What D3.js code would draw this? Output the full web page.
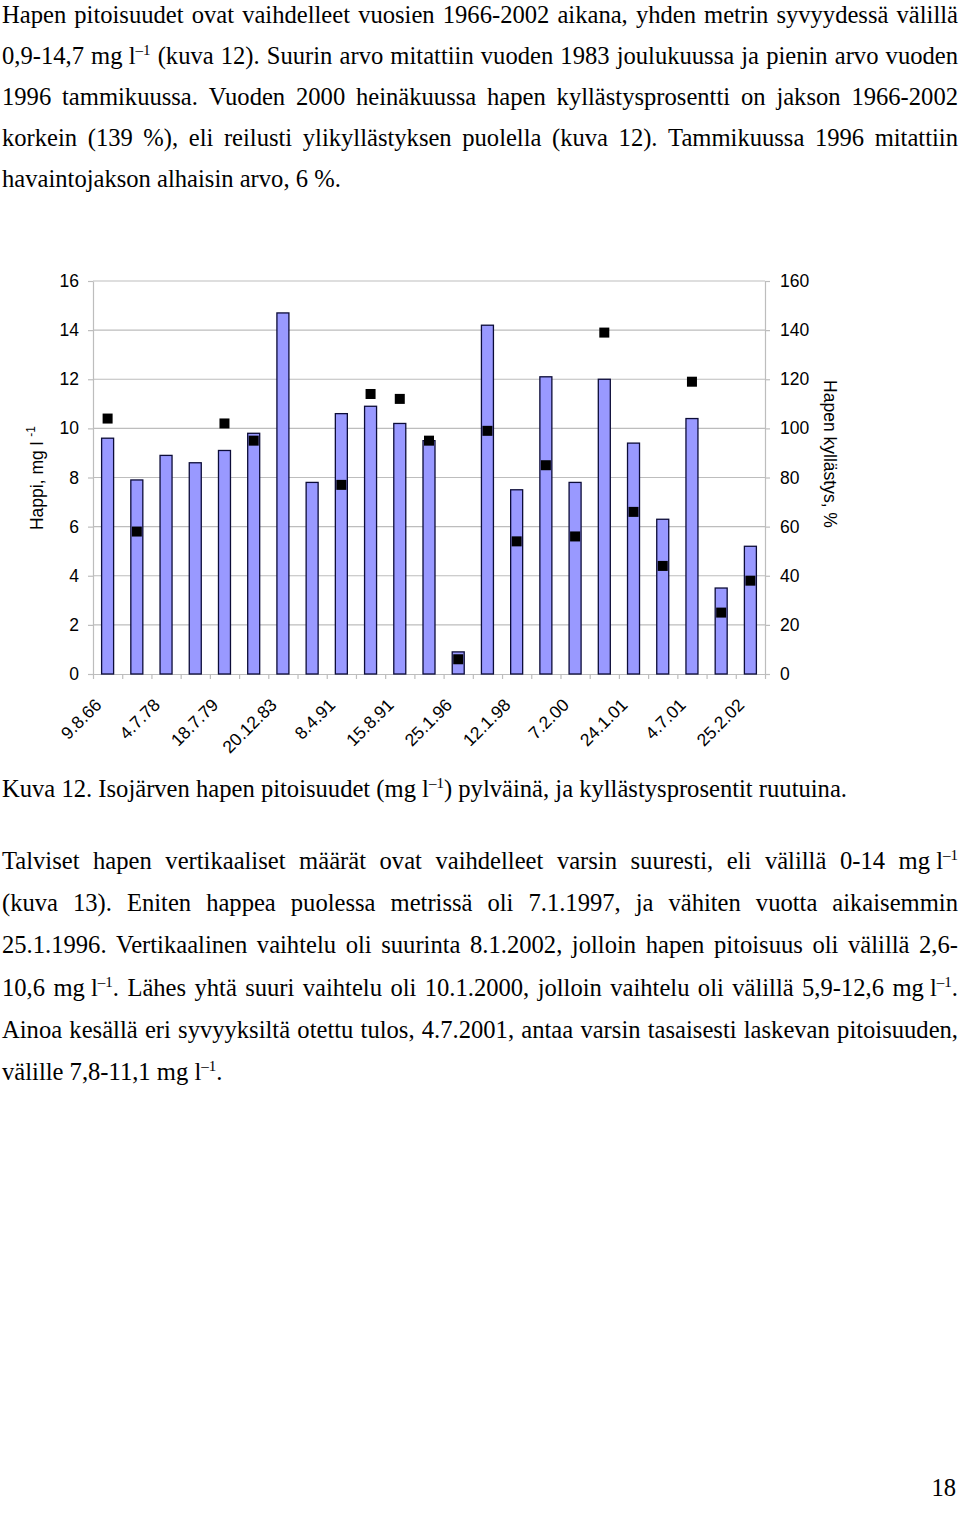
<!DOCTYPE html>
<html><head><meta charset="utf-8">
<script src="https://cdn.jsdelivr.net/npm/d3@7"></script>
<style>body{margin:0;background:#fff} svg{display:block}</style>
</head><body>
<svg id="c" width="960" height="1515"></svg>
<script>
// ---------- data ----------
const categories = ["9.8.66","c2","4.7.78","c4","18.7.79","c6","20.12.83","c8","8.4.91","c10","15.8.91","c12","25.1.96","c14","12.1.98","c16","7.2.00","c18","24.1.01","c20","4.7.01","c22","25.2.02"];
const tickLabels = ["9.8.66","","4.7.78","","18.7.79","","20.12.83","","8.4.91","","15.8.91","","25.1.96","","12.1.98","","7.2.00","","24.1.01","","4.7.01","","25.2.02"];
const oxygen = [9.6,7.9,8.9,8.6,9.1,9.8,14.7,7.8,10.6,10.9,10.2,9.5,0.9,14.2,7.5,12.1,7.8,12.0,9.4,6.3,10.4,3.5,5.2];
const saturation = [104,58,null,null,102,95,null,null,77,114,112,95,6,99,54,85,56,139,66,44,119,25,38];
const yTicks = [0,2,4,6,8,10,12,14,16];
const y2Ticks = [0,20,40,60,80,100,120,140,160];

const para1 = [
 "Hapen pitoisuudet ovat vaihdelleet vuosien 1966-2002 aikana, yhden metrin syvyydessä välillä",
 "0,9-14,7 mg\u00A0l^{–1} (kuva 12). Suurin arvo mitattiin vuoden 1983 joulukuussa ja pienin arvo vuoden",
 "1996 tammikuussa. Vuoden 2000 heinäkuussa hapen kyllästysprosentti on jakson 1966-2002",
 "korkein (139 %), eli reilusti ylikyllästyksen puolella (kuva 12). Tammikuussa 1996 mitattiin",
 "havaintojakson alhaisin arvo, 6 %."
];
const caption = ["Kuva 12. Isojärven hapen pitoisuudet (mg\u00A0l^{–1}) pylväinä, ja kyllästysprosentit ruutuina."];
const para2 = [
 "Talviset hapen vertikaaliset määrät ovat vaihdelleet varsin suuresti, eli välillä 0-14 mg\u00A0l^{–1}",
 "(kuva 13). Eniten happea puolessa metrissä oli 7.1.1997, ja vähiten vuotta aikaisemmin",
 "25.1.1996. Vertikaalinen vaihtelu oli suurinta 8.1.2002, jolloin hapen pitoisuus oli välillä 2,6-",
 "10,6 mg\u00A0l^{–1}. Lähes yhtä suuri vaihtelu oli 10.1.2000, jolloin vaihtelu oli välillä 5,9-12,6 mg\u00A0l^{–1}.",
 "Ainoa kesällä eri syvyyksiltä otettu tulos, 4.7.2001, antaa varsin tasaisesti laskevan pitoisuuden,",
 "välille 7,8-11,1 mg\u00A0l^{–1}."
];

// ---------- setup ----------
const svg = d3.select("#c");
const M = {left:93, right:765, top:281, bottom:674};
const x = d3.scaleBand().domain(d3.range(oxygen.length)).range([M.left, M.right]);
const xb = d3.scaleLinear().domain([0, oxygen.length]).range([M.left, M.right]);
const y = d3.scaleLinear().domain([0,16]).range([M.bottom, M.top]);
const y2 = d3.scaleLinear().domain([0,160]).range([M.bottom, M.top]);
const AX = "#bdbdbd";
const SANS = "'Liberation Sans', Arial, sans-serif";
const SERIF = "'Liberation Serif', 'Times New Roman', serif";
const CFS = 17.5;

// gridlines
svg.append("g").selectAll("line").data(yTicks.filter(d => d > 0)).join("line")
  .attr("x1", M.left).attr("x2", M.right)
  .attr("y1", d => y(d)).attr("y2", d => y(d))
  .attr("stroke", AX).attr("stroke-width", 1.2);

function styleAxis(g){
  g.selectAll("path.domain").attr("stroke", AX).attr("stroke-width", 1.2);
  g.selectAll(".tick line").attr("stroke", AX).attr("stroke-width", 1.2);
  g.selectAll("text").attr("font-family", SANS).attr("font-size", CFS).attr("fill", "#000");
}

svg.append("g").attr("transform", `translate(${M.left},0)`)
  .call(d3.axisLeft(y).tickValues(yTicks).tickSize(5).tickSizeOuter(0).tickPadding(9))
  .call(styleAxis);
svg.append("g").attr("transform", `translate(${M.right},0)`)
  .call(d3.axisRight(y2).tickValues(y2Ticks).tickSize(5).tickSizeOuter(0).tickPadding(10))
  .call(styleAxis);
svg.append("g").attr("transform", `translate(0,${M.bottom})`)
  .call(d3.axisBottom(xb).tickValues(d3.range(oxygen.length + 1)).tickSize(5).tickSizeOuter(0).tickFormat(""))
  .call(styleAxis);
const xl = svg.append("g").attr("transform", `translate(0,${M.bottom})`)
  .call(d3.axisBottom(x).tickSize(0).tickFormat(i => tickLabels[i]))
  .call(styleAxis);
xl.select("path.domain").remove();
xl.selectAll(".tick text").attr("x", 0).attr("y", 0).attr("dy", 0)
  .attr("text-anchor", "end").attr("transform", "translate(-5,32) rotate(-45)");

// bars
const bw = 12;
svg.append("g").selectAll("rect").data(oxygen).join("rect")
  .attr("x", (d,i) => x(i) + x.bandwidth()/2 - bw/2)
  .attr("width", bw)
  .attr("y", d => y(d)).attr("height", d => y(0) - y(d))
  .attr("fill", "#9999ff").attr("stroke", "#0c0c38").attr("stroke-width", 1.3);

// markers
const ms = 10;
svg.append("g").selectAll("rect").data(saturation.map((v,i) => ({v,i})).filter(d => d.v != null)).join("rect")
  .attr("x", d => x(d.i) + x.bandwidth()/2 - ms/2)
  .attr("y", d => y2(d.v) - ms/2)
  .attr("width", ms).attr("height", ms).attr("fill", "#000");

// axis titles
const lt = svg.append("text").attr("font-family", SANS).attr("font-size", CFS)
  .attr("text-anchor", "middle").attr("transform", `translate(43,478) rotate(-90)`);
lt.append("tspan").text("Happi, mg l ");
lt.append("tspan").attr("font-size", 12).attr("dy", -8).text("-1");
svg.append("text").attr("font-family", SANS).attr("font-size", CFS)
  .attr("text-anchor", "middle").attr("transform", `translate(824,454) rotate(90)`)
  .text("Hapen kyllästys, %");

// ---------- body text ----------
const FS = 24.6, SUPFS = 15, SUPDY = 9;
function drawWord(g, word){
  const t = g.append("text").attr("font-family", SERIF).attr("font-size", FS).attr("fill", "#000");
  const re = /\^\{([^}]*)\}/g;
  let last = 0, m, raised = false;
  while ((m = re.exec(word)) !== null){
    if (m.index > last) t.append("tspan").attr("dy", raised ? SUPDY : null).text(word.slice(last, m.index)), raised = false;
    t.append("tspan").attr("font-size", SUPFS).attr("dy", raised ? 0 : -SUPDY).text(m[1]);
    raised = true;
    last = re.lastIndex;
  }
  if (last < word.length) t.append("tspan").attr("dy", raised ? SUPDY : null).text(word.slice(last));
  return t;
}
function drawLines(lines, y0, lh, justifyAll){
  lines.forEach((line, li) => {
    const g = svg.append("g");
    const words = line.split(" ");
    const nodes = words.map(w => drawWord(g, w));
    const widths = nodes.map(n => n.node().getComputedTextLength());
    const total = d3.sum(widths);
    const justify = justifyAll && li < lines.length - 1 && words.length > 1;
    const gap = justify ? (958 - 2 - total) / (words.length - 1) : FS * 0.25;
    let cx = 2;
    nodes.forEach((n, i) => { n.attr("x", cx).attr("y", y0 + li * lh); cx += widths[i] + gap; });
  });
}
drawLines(para1, 22.5, 41, true);
drawLines(caption, 797, 42, false);
drawLines(para2, 869, 42.2, true);

svg.append("text").attr("font-family", SERIF).attr("font-size", FS)
  .attr("x", 956).attr("y", 1496).attr("text-anchor", "end").text("18");
</script>
</body></html>
